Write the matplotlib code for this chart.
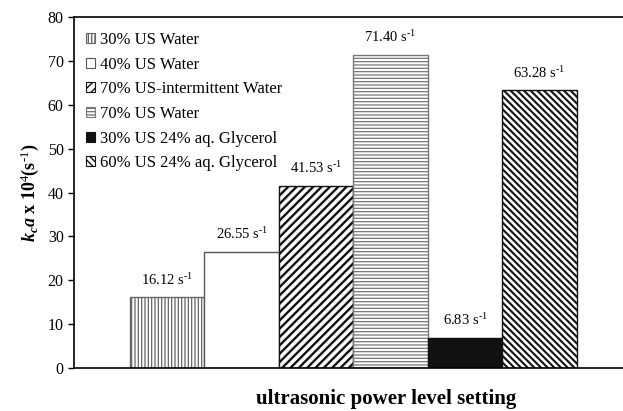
import matplotlib
matplotlib.use("Agg")
import matplotlib.pyplot as plt
from matplotlib.patches import Patch

# kca values for each run (x 10^4 s^-1)
labels = ["30% US Water", "40% US Water", "70% US-intermittent Water",
          "70% US Water", "30% US 24% aq. Glycerol", "60% US 24% aq. Glycerol"]
values = [16.12, 26.55, 41.53, 71.40, 6.83, 63.28]
value_text = ["16.12", "26.55", "41.53", "71.40", "6.83", "63.28"]
yticks = [0, 10, 20, 30, 40, 50, 60, 70, 80]

plt.rcParams['font.family'] = ['Liberation Serif', 'DejaVu Serif']
plt.rcParams['mathtext.fontset'] = 'custom'
plt.rcParams['mathtext.rm'] = 'Liberation Serif'
plt.rcParams['mathtext.it'] = 'Liberation Serif:italic:bold'
plt.rcParams['mathtext.bf'] = 'Liberation Serif:bold'

# bar styles
faces = ['white', 'white', 'white', 'white', '#111111', 'white']
edges = ['#666666', '#555555', '#111111', '#777777', '#111111', '#111111']
hatches = ['|||||', '', '////', '-----', '', '\\\\\\\\\\']
hatch_lw = [0.9, 0.9, 1.7, 0.9, 0.9, 1.5]

fig = plt.figure(figsize=(6.23, 4.11), dpi=100)
ax = fig.add_axes([0.119, 0.1046, 0.881, 0.854])

x = list(range(len(values)))
for xi, v, f, e, h, lw in zip(x, values, faces, edges, hatches, hatch_lw):
    with plt.rc_context({'hatch.linewidth': lw}):
        ax.bar(xi, v, width=1.0, color=f, edgecolor=e, linewidth=1.0, hatch=h)

for xi, v, t in zip(x, values, value_text):
    ax.annotate(t + r" s$^{\text{-1}}$", (xi, v), xytext=(0, 7),
                textcoords='offset points', ha='center', va='bottom',
                fontsize=10.5)

ax.set_xlim(-1.25, 6.12)
ax.set_ylim(0, 80)
ax.set_yticks(yticks)
ax.tick_params(axis='y', direction='out', length=4, labelsize=11.5, width=1)
ax.set_xticks([])
ax.spines['right'].set_visible(False)
for s in ['left', 'top', 'bottom']:
    ax.spines[s].set_linewidth(1.2)

ax.set_ylabel(r"$k_c a$ x 10$^4$(s$^{\text{-1}}$)", fontsize=13,
              fontweight='bold', labelpad=5)
ax.set_xlabel("ultrasonic power level setting", fontsize=15, fontweight='bold')
ax.xaxis.set_label_coords(0.568, -0.061)

handles = []
for f, e, h, lw in zip(faces, edges, hatches, hatch_lw):
    with plt.rc_context({'hatch.linewidth': lw}):
        handles.append(Patch(facecolor=f, edgecolor=e, hatch=h, linewidth=0.8))
ax.legend(handles, labels, loc='upper left', frameon=False, fontsize=12,
          handlelength=0.55, handleheight=0.55, handletextpad=0.3,
          labelspacing=0.52, borderaxespad=0.5, bbox_to_anchor=(-0.006, 1.0))

fig.savefig("out.png", dpi=100)
